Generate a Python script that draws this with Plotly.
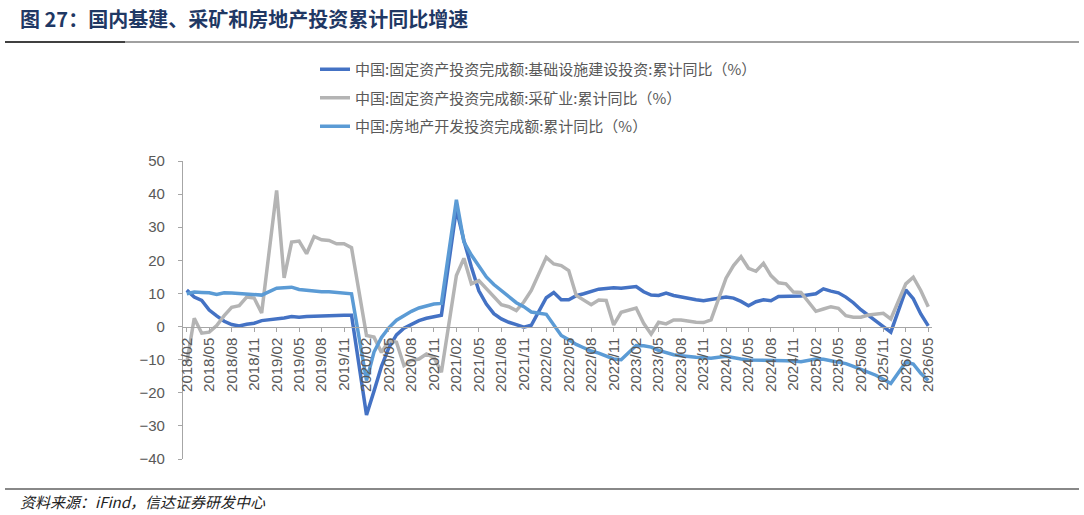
import plotly.graph_objects as go
import pandas as pd

# ---- categories: monthly from 2018/02 to 2026/05 (January has no data) ----
months = [d.strftime("%Y/%m") for d in pd.date_range("2018-02-01", "2026-05-01", freq="MS")]
tick_labels = months[::3]

# ---- series values (%), None = January (no release) ----
infra = [
    11.0, 8.9, 7.9, 5.0, 3.2, 1.6, 0.6, 0.2, 0.7, 1.0, 1.8,          # 2018
    None, 2.2, 2.6, 3.0, 2.8, 3.0, 3.1, 3.2, 3.4, 3.3, 3.4, 3.4,     # 2019
    None, -26.7, -19.5, -12.0, -6.3, -2.5, -0.5, 0.8, 1.8, 2.5, 3.0, 3.4,  # 2020
    None, 35.5, 26.0, 18.0, 10.8, 6.8, 3.9, 2.3, 1.3, 0.6, -0.2, 0.4,     # 2021
    None, 8.7, 10.3, 8.1, 8.1, 9.3, 9.9, 10.5, 11.3, 11.5, 11.7, 11.6,    # 2022
    None, 12.1, 10.5, 9.5, 9.4, 10.1, 9.4, 8.9, 8.5, 8.1, 7.8, 8.2,       # 2023
    None, 8.9, 8.6, 7.6, 6.3, 7.5, 8.1, 7.8, 9.1, 9.2, 9.2, 9.2,          # 2024
    None, 9.9, 11.4, 10.7, 10.2, 8.9, 7.2, 5.1, 3.3, 1.6, 0.0, -1.7,      # 2025
    None, 11.1, 8.4, 3.8, 0.2,                                            # 2026
]
mining = [
    -11.0, 2.5, -2.0, -1.7, 0.3, 3.3, 5.8, 6.3, 8.9, 8.6, 4.1,
    None, 41.1, 14.7, 25.5, 25.8, 22.0, 27.2, 26.2, 26.0, 25.0, 25.0, 23.8,
    None, -2.7, -3.2, -7.8, -4.2, -4.7, -11.8, -10.3, -9.8, -8.3, -9.3, -13.8,
    None, 15.4, 20.6, 12.9, 13.9, 11.4, 8.9, 6.6, 6.0, 4.8, 7.4, 10.9,
    None, 20.9, 18.9, 18.4, 16.9, 9.4, 8.0, 6.6, 8.0, 7.9, 0.5, 4.3,
    None, 5.6, 1.0, -2.3, 1.3, 0.8, 2.0, 2.0, 1.6, 1.3, 1.2, 2.0,
    None, 14.6, 18.4, 21.1, 17.6, 16.7, 19.1, 15.4, 13.2, 12.9, 10.4, 10.3,
    None, 4.6, 5.3, 6.0, 5.5, 3.3, 2.8, 2.8, 3.5, 3.7, 4.0, 2.3,
    None, 12.9, 14.9, 10.9, 6.0,
]
realestate = [
    9.9, 10.4, 10.3, 10.2, 9.7, 10.2, 10.1, 9.9, 9.7, 9.7, 9.5,
    None, 11.6, 11.8, 11.9, 11.2, 10.9, 10.6, 10.5, 10.5, 10.3, 10.2, 9.9,
    None, -16.3, -7.7, -3.3, -0.3, 1.9, 3.4, 4.6, 5.6, 6.3, 6.8, 7.0,
    None, 38.3, 25.6, 21.6, 18.3, 15.0, 12.7, 10.9, 8.8, 7.2, 6.0, 4.4,
    None, 3.7, 0.7, -2.7, -4.0, -5.4, -6.4, -7.4, -8.0, -8.8, -9.8, -10.0,
    None, -5.7, -5.8, -6.2, -7.2, -7.9, -8.5, -8.8, -9.1, -9.3, -9.4, -9.6,
    None, -9.0, -9.5, -9.8, -10.1, -10.1, -10.2, -10.2, -10.1, -10.3, -10.4, -10.6,
    None, -9.8, -9.9, -10.3, -10.7, -11.2, -12.0, -12.9, -13.9, -14.7, -15.9, -17.2,
    None, -10.8, -11.3, -14.1, -16.3,
]

series_names = [
    "中国:固定资产投资完成额:基础设施建设投资:累计同比（%）",
    "中国:固定资产投资完成额:采矿业:累计同比（%）",
    "中国:房地产开发投资完成额:累计同比（%）",
]
series_colors = ["#4472C4", "#B4B4B4", "#5B9BD5"]

title_text = "图 27：国内基建、采矿和房地产投资累计同比增速"
source_text = "资料来源：iFind，信达证券研发中心"

# ---- layout geometry (pixels) ----
W, H = 1084, 515
L, R, T, B = 183, 152, 161, 56
PW, PH = W - L - R, H - T - B


def px(xp):
    return (xp - L) / PW


def py(yp):
    return (H - B - yp) / PH


CJK = "Noto Sans CJK SC"
LAT = "Liberation Sans"

fig = go.Figure()
for vals, name, col, grp in zip([infra, mining, realestate], series_names, series_colors, ["a", "b", "c"]):
    fig.add_trace(go.Scatter(
        x=months, y=vals, name=name, mode="lines", connectgaps=True,
        line=dict(color=col, width=3.5), legendgroup=grp,
    ))

ymin, ymax = -40, 50
fig.update_layout(
    width=W, height=H, autosize=False,
    margin=dict(l=L, r=R, t=T, b=B, pad=0),
    paper_bgcolor="white", plot_bgcolor="white",
    showlegend=True,
    legend=dict(
        x=px(315), y=py(53), xanchor="left", yanchor="top",
        orientation="v", tracegroupgap=6,
        font=dict(family=CJK, size=15, color="#595959"),
        bgcolor="rgba(0,0,0,0)", borderwidth=0,
    ),
    xaxis=dict(
        type="category", categoryorder="array", categoryarray=months,
        range=[-0.5, len(months) - 0.5],
        anchor="free", position=(0 - ymin) / (ymax - ymin),
        tickmode="array", tickvals=tick_labels, ticktext=tick_labels,
        tickangle=-90, tickfont=dict(family=LAT, size=15, color="#595959"),
        showline=True, linecolor="#A6A6A6", linewidth=1.3,
        ticks="outside", ticklen=4, tickcolor="#A6A6A6",
        showgrid=False, zeroline=False,
    ),
    yaxis=dict(
        range=[ymin, ymax], dtick=10, tick0=0,
        tickfont=dict(family=LAT, size=15, color="#595959"),
        showline=True, linecolor="#A6A6A6", linewidth=1.3,
        ticks="outside", ticklen=4, tickcolor="#A6A6A6",
        ticklabelstandoff=10,
        showgrid=False, zeroline=False,
    ),
    annotations=[
        dict(xref="paper", yref="paper", x=px(18), y=py(18), xanchor="left", yanchor="middle",
             text="<b>" + title_text + "</b>", showarrow=False,
             font=dict(family=CJK, size=20, color="#1F3864")),
        dict(xref="paper", yref="paper", x=px(18), y=py(501), xanchor="left", yanchor="middle",
             text="<i>" + source_text + "</i>", showarrow=False,
             font=dict(family=CJK, size=15, color="#222222")),
    ],
    shapes=[
        dict(type="line", xref="paper", yref="paper", x0=px(5), x1=px(125), y0=py(42), y1=py(42),
             line=dict(color="#404040", width=2)),
        dict(type="line", xref="paper", yref="paper", x0=px(125), x1=px(1079), y0=py(42), y1=py(42),
             line=dict(color="#808080", width=1.5)),
        dict(type="line", xref="paper", yref="paper", x0=px(5), x1=px(1079), y0=py(489), y1=py(489),
             line=dict(color="#606060", width=1.5)),
    ],
)

fig.write_html("out.html")
